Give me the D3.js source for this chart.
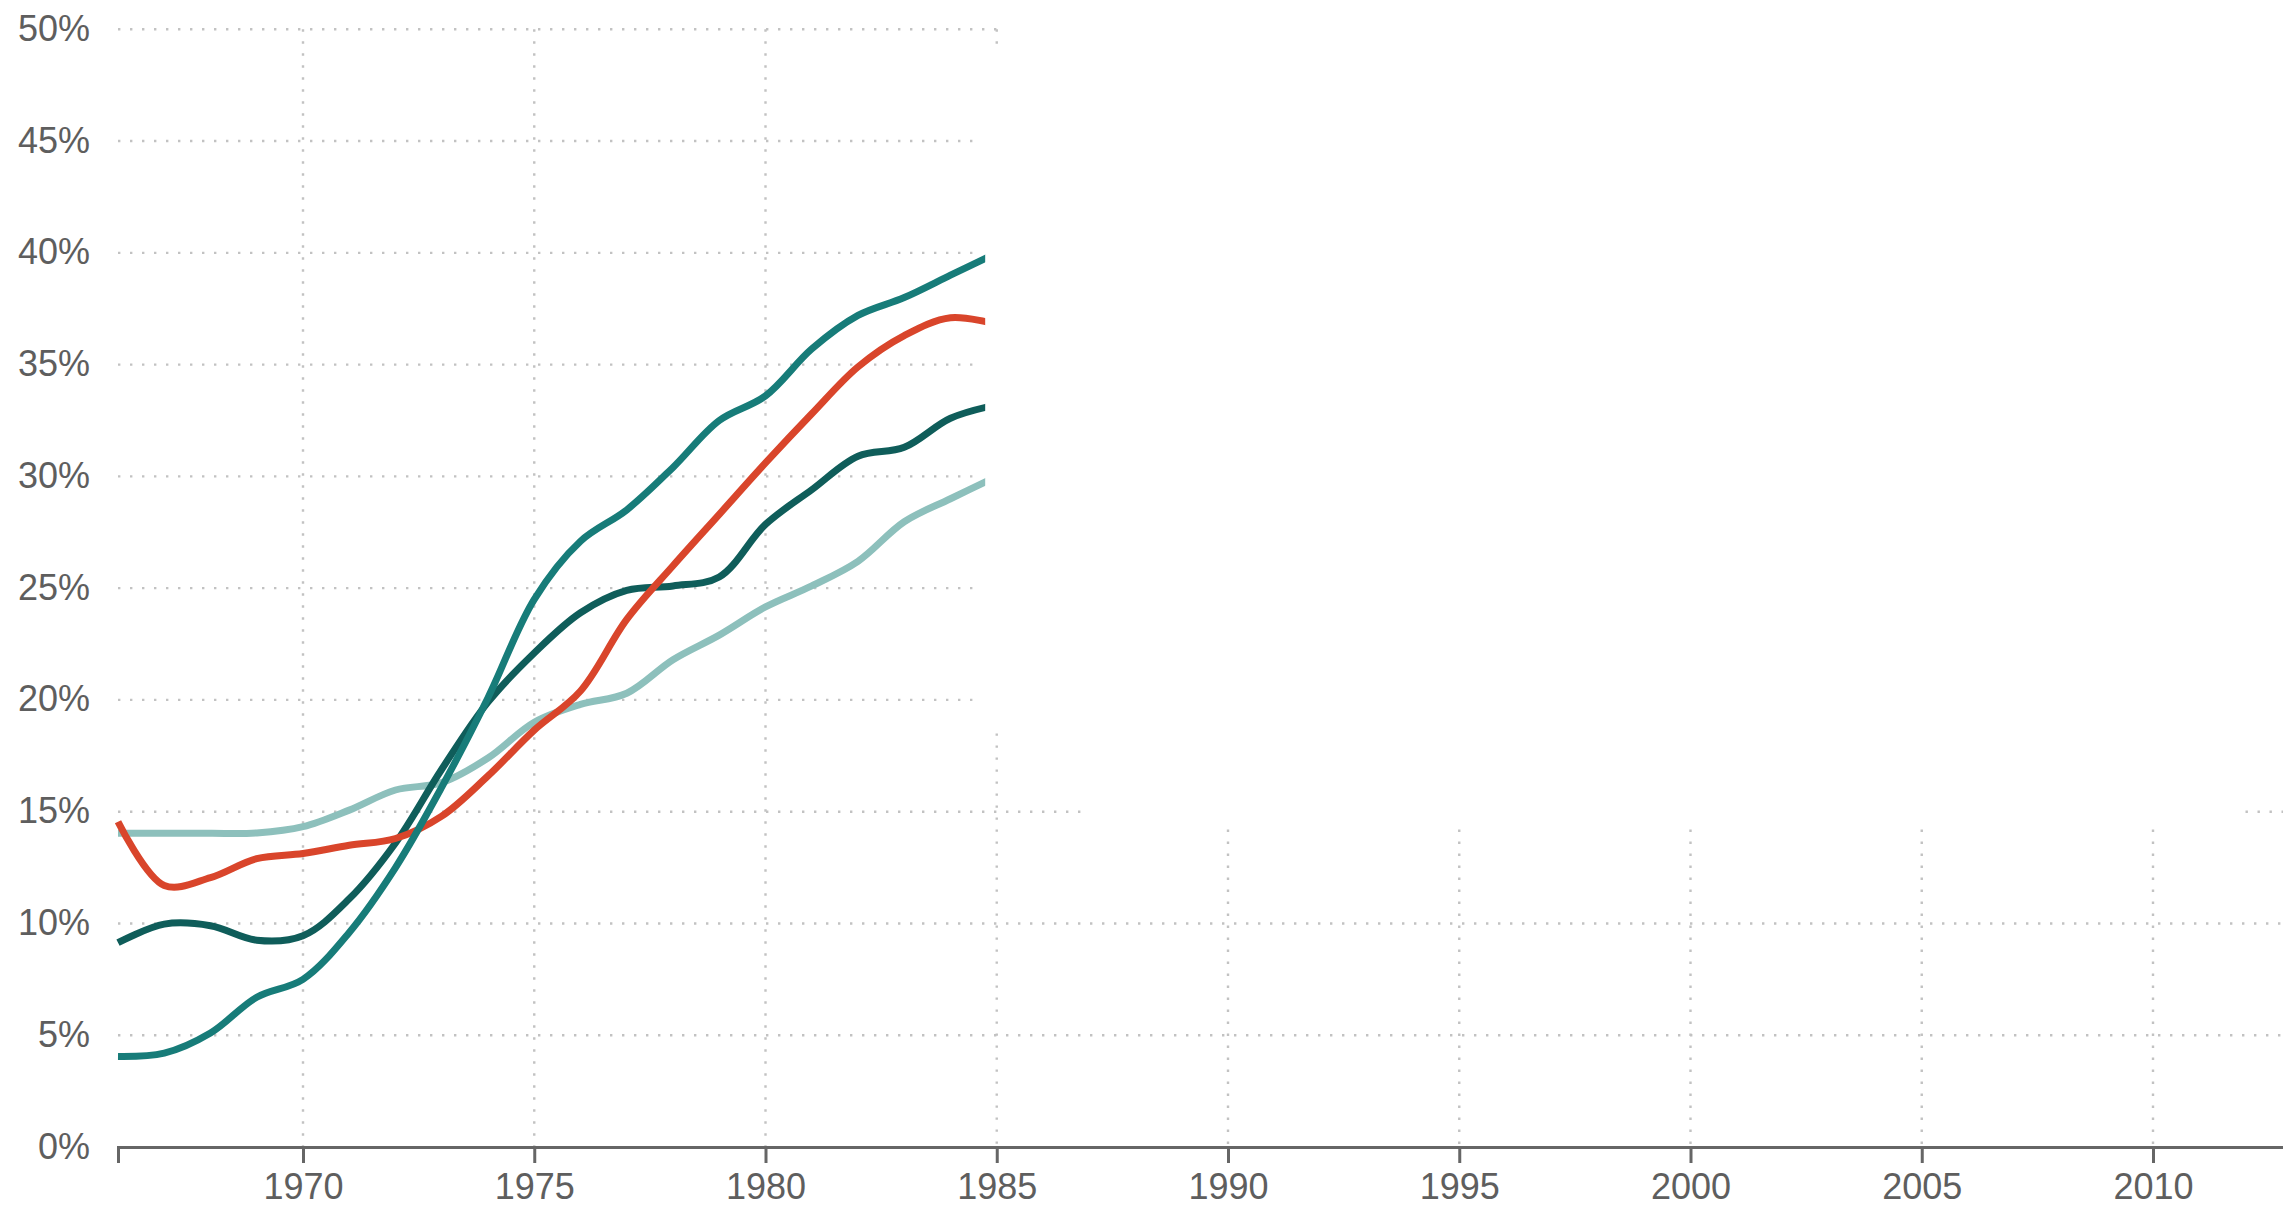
<!DOCTYPE html>
<html>
<head>
<meta charset="utf-8">
<script src="https://cdn.jsdelivr.net/npm/d3@7"></script>
<style>
  html, body { margin: 0; padding: 0; background: #ffffff; overflow: hidden; }
  svg { display: block; }
  .tick text, .ylab { font-family: "Liberation Sans", Arial, sans-serif; font-size: 36px; fill: #5e5e5e; }
</style>
</head>
<body>
<svg id="chart" width="2283" height="1206"></svg>
<script>
// ---- data ----
const years = [1966,1967,1968,1969,1970,1971,1972,1973,1974,1975,1976,1977,1978,1979,1980,1981,1982,1983,1984,1985];
const tealValues  = [4.05,4.2,5.1,6.7,7.5,9.6,12.5,16.1,20.1,24.5,27.1,28.5,30.4,32.5,33.6,35.7,37.2,38.0,39.0,40.0];
const redValues   = [14.55,11.7,12.05,12.9,13.13,13.5,13.8,14.8,16.6,18.65,20.4,23.6,26.0,28.3,30.6,32.8,34.9,36.3,37.1,36.8];
const darkValues  = [9.14,9.97,9.9,9.25,9.45,11.1,13.6,16.9,19.9,22.1,23.9,24.9,25.1,25.5,27.85,29.4,30.9,31.3,32.6,33.2];
const lightValues = [14.03,14.03,14.03,14.05,14.33,15.07,15.97,16.3,17.4,19.0,19.8,20.3,21.8,22.9,24.16,25.1,26.2,27.97,29.0,30.0];
const xTicks = [1970,1975,1980,1985,1990,1995,2000,2005,2010];
const yTicks = [0,5,10,15,20,25,30,35,40,45,50];
const drawnUntil = 1984.75; // lines are drawn up to this year

// grid extents (in data units) as seen in the picture
const hGridSegments = [
  {v:50, segs:[[1966,1985.1]]},
  {v:45, segs:[[1966,1984.65]]},
  {v:40, segs:[[1966,1984.65]]},
  {v:35, segs:[[1966,1984.65]]},
  {v:30, segs:[[1966,1984.65]]},
  {v:25, segs:[[1966,1984.65]]},
  {v:20, segs:[[1966,1984.65]]},
  {v:15, segs:[[1966,1986.9],[2012,2013]]},
  {v:10, segs:[[1966,2013]]},
  {v:5,  segs:[[1966,2013]]}
];
const vGridSegments = [
  {yr:1970, segs:[[0,50]]},
  {yr:1975, segs:[[0,50]]},
  {yr:1980, segs:[[0,50]]},
  {yr:1985, segs:[[0,18.5],[49.3,50]]},
  {yr:1990, segs:[[0,14.2]]},
  {yr:1995, segs:[[0,14.2]]},
  {yr:2000, segs:[[0,14.2]]},
  {yr:2005, segs:[[0,14.2]]},
  {yr:2010, segs:[[0,14.2]]}
];

const series = [
  {name:"light", values: lightValues, color:"#8dc0bc"},
  {name:"dark",  values: darkValues,  color:"#0f5d5a"},
  {name:"red",   values: redValues,   color:"#d9452b"},
  {name:"teal",  values: tealValues,  color:"#177c79"}
];

// ---- scales ----
const svg = d3.select("#chart");
const x = d3.scaleLinear().domain([1966, 2013]).range([118, 118 + 47*46.25]);
const y = d3.scaleLinear().domain([0, 50]).range([1147, 29.3]);

const grid = svg.append("g").attr("stroke", "#c2c2c2").attr("stroke-width", 2.4)
  .attr("stroke-dasharray", "2.4,9.6").attr("fill", "none");

hGridSegments.forEach(g => g.segs.forEach(s => {
  grid.append("line").attr("x1", x(s[0])).attr("x2", x(s[1]))
    .attr("y1", y(g.v)).attr("y2", y(g.v));
}));
vGridSegments.forEach(g => g.segs.forEach(s => {
  grid.append("line").attr("x1", x(g.yr)).attr("x2", x(g.yr))
    .attr("y1", y(s[1])).attr("y2", y(s[0]));
}));

// y labels
svg.append("g").selectAll("text").data(yTicks).join("text")
  .attr("class", "ylab")
  .attr("x", 90).attr("y", d => y(d)).attr("dy", "0.32em")
  .attr("text-anchor", "end")
  .text(d => d + "%");

// lines
svg.append("defs").append("clipPath").attr("id", "clip")
  .append("rect").attr("x", 0).attr("y", 0)
  .attr("width", x(drawnUntil)).attr("height", 1206);

const line = d3.line()
  .x((d, i) => x(years[i]))
  .y(d => y(d))
  .curve(d3.curveCatmullRom.alpha(0.5));

svg.append("g").attr("clip-path", "url(#clip)")
  .selectAll("path").data(series).join("path")
  .attr("d", d => line(d.values))
  .attr("fill", "none")
  .attr("stroke", d => d.color)
  .attr("stroke-width", 7)
  .attr("stroke-linejoin", "round");

// x axis
const xAxis = d3.axisBottom(x).tickValues(xTicks).tickFormat(d3.format("d"))
  .tickSizeInner(16).tickSizeOuter(16).tickPadding(10);
const ax = svg.append("g").attr("transform", `translate(0,${y(0)})`).call(xAxis);
ax.select(".domain").attr("stroke", "#666").attr("stroke-width", 3);
ax.selectAll(".tick line").attr("stroke", "#666").attr("stroke-width", 3);
ax.selectAll(".tick text").attr("fill", "#5e5e5e")
  .style("font-family", '"Liberation Sans", Arial, sans-serif').style("font-size", "36px");
</script>
</body>
</html>
